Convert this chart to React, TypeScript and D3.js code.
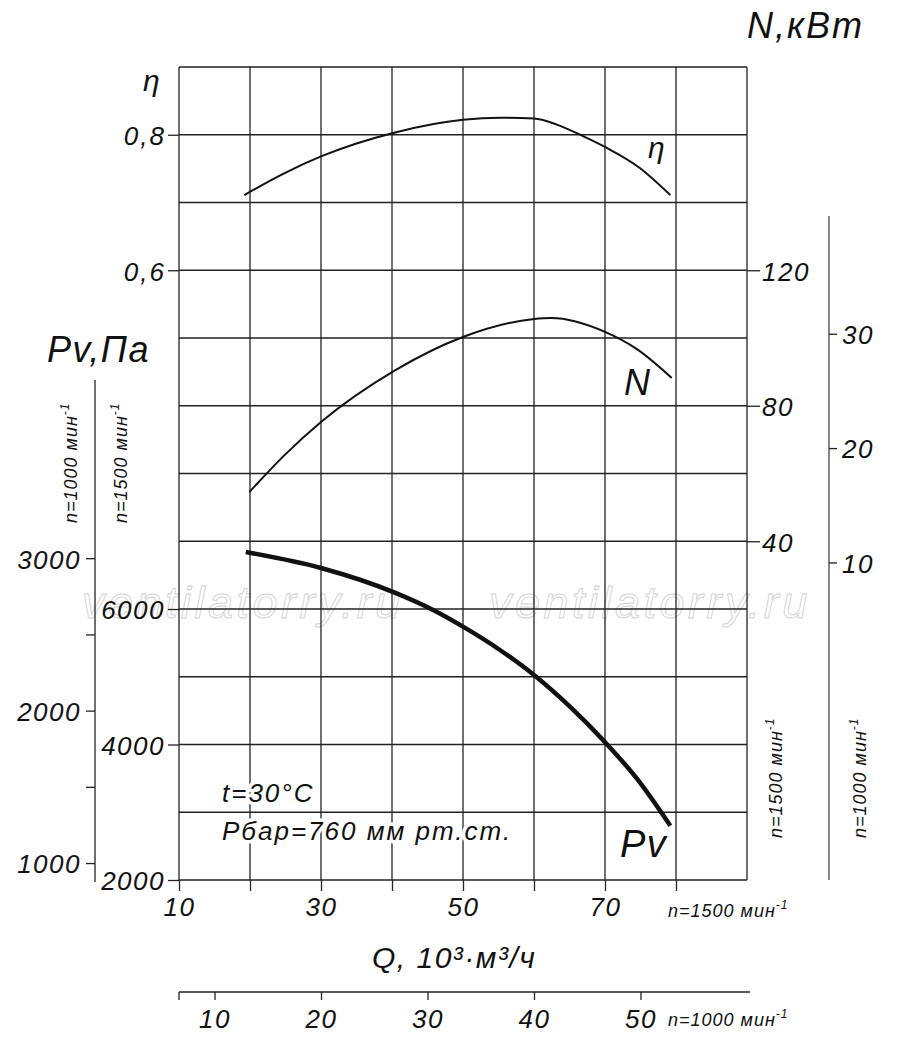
import React, { useEffect, useRef } from 'react';
import * as d3 from 'd3';

// flow, 10^3 m3/h at n=1500
const etaQ = [19.2, 24.6, 30, 40.3, 50, 55.2, 60, 63.2, 66.9, 70, 74.9, 79.2];
const etaVals = [0.711, 0.742, 0.768, 0.803, 0.822, 0.825, 0.824, 0.815, 0.798, 0.782, 0.751, 0.711];

const nQ = [19.9, 24.9, 30, 40.3, 50, 60, 62.4, 70, 74.5, 79.4];
const nVals = [54.5, 65.5, 75.2, 90.3, 100.3, 105.6, 105.9, 101.8, 96.7, 88.2];

const pvQ = [19.4, 30, 40.3, 45.8, 50, 55.2, 60, 65.1, 70, 74.5, 79.2];
const pvVals = [6841, 6605, 6245, 5985, 5739, 5395, 5026, 4555, 4035, 3495, 2800];

const qGrid = [10, 20, 30, 40, 50, 60, 70, 80, 90];
const q1500Ticks = [10, 20, 30, 40, 50, 60, 70, 80];
const q1500Labels = [10, 30, 50, 70];
const q1000Ticks = [10, 20, 30, 40, 50];
const rowGrid = [2000, 3000, 4000, 5000, 6000, 7000, 8000, 9000, 10000, 11000, 12000, 13000, 14000];
const etaTicks = [0.6, 0.8];
const n1500Ticks = [40, 80, 120];
const n1000Ticks = [10, 20, 30];
const pv1500Ticks = [2000, 4000, 6000];
const pv1000Ticks = [1000, 1500, 2000, 2500, 3000];
const pv1000Labels = [1000, 2000, 3000];

const FONT = '"Liberation Sans", Arial, sans-serif';
const INK = '#111';

const FanChart: React.FC = () => {
  const svgRef = useRef<SVGSVGElement>(null);

  useEffect(() => {
    document.body.style.margin = '0';
    if (!svgRef.current) return;
    const svg = d3.select(svgRef.current);
    svg.selectAll('*').remove();

    const left = 179, right = 747, top = 67, bottom = 880;

    const x = d3.scaleLinear().domain([10, 90]).range([left, right]);
    const xLow = d3.scaleLinear().domain([10 * 2 / 3, 90 * 2 / 3]).range([left, right]);
    const yPv = d3.scaleLinear().domain([2000, 14000]).range([bottom, top]);
    const yPvLow = d3.scaleLinear().domain([2000 * 4 / 9, 14000 * 4 / 9]).range([bottom, top]);
    const yEta = d3.scaleLinear().domain([-0.3, 0.9]).range([bottom, top]);
    const yN = d3.scaleLinear().domain([-60, 180]).range([bottom, top]);
    const yNLow = d3.scaleLinear().domain([-60 * 8 / 27, 180 * 8 / 27]).range([bottom, top]);

    // watermark
    [82, 489].forEach(wx => {
      svg.append('text')
        .attr('x', wx).attr('y', 618)
        .attr('font-family', FONT).attr('font-style', 'italic')
        .attr('font-size', 45).attr('letter-spacing', 3.5)
        .attr('fill', 'none').attr('stroke', '#d2d2d2').attr('stroke-width', 0.9)
        .text('ventilatorry.ru');
    });

    // grid
    const grid = svg.append('g').attr('stroke', '#222').attr('stroke-width', 1.3);
    grid.selectAll('line.v').data(qGrid).enter().append('line')
      .attr('x1', d => x(d)).attr('x2', d => x(d))
      .attr('y1', top).attr('y2', bottom);
    grid.selectAll('line.h').data(rowGrid).enter().append('line')
      .attr('x1', left).attr('x2', right)
      .attr('y1', d => yPv(d)).attr('y2', d => yPv(d));

    const styleAxis = (g: d3.Selection<SVGGElement, unknown, null, undefined>, size: number, spacing = 1.5) => {
      g.select('.domain').remove();
      g.selectAll('.tick line').attr('stroke', '#222').attr('stroke-width', 1.3);
      g.selectAll('.tick text')
        .attr('fill', INK)
        .attr('font-family', FONT)
        .attr('font-style', 'italic')
        .attr('font-size', size)
        .attr('letter-spacing', spacing);
    };

    const comma = (d: d3.NumberValue) => d3.format('.1f')(+d).replace('.', ',');

    // eta axis
    svg.append('g')
      .attr('transform', `translate(${left},0)`)
      .call(d3.axisLeft(yEta).tickValues(etaTicks).tickSize(11).tickPadding(2).tickFormat(comma))
      .call(g => styleAxis(g, 26, 2))
      .call(g => g.selectAll('.tick text').attr('dy', '0.38em'));

    // Pv axis n=1500
    svg.append('g')
      .attr('transform', `translate(${left},0)`)
      .call(d3.axisLeft(yPv).tickValues(pv1500Ticks).tickSize(11).tickPadding(3).tickFormat(d3.format('d')))
      .call(g => styleAxis(g, 26))
      .call(g => g.selectAll('.tick text').attr('dy', '0.38em'));

    // Pv axis n=1000
    svg.append('line')
      .attr('x1', 95).attr('x2', 95).attr('y1', 380).attr('y2', 882)
      .attr('stroke', '#222').attr('stroke-width', 1.3);
    svg.append('g')
      .attr('transform', 'translate(95,0)')
      .call(d3.axisLeft(yPvLow).tickValues(pv1000Ticks).tickSize(9).tickPadding(5)
        .tickFormat(d => (pv1000Labels.includes(+d) ? String(d) : '')))
      .call(g => styleAxis(g, 26))
      .call(g => g.selectAll('.tick text').attr('dy', '0.38em'));

    // N axis n=1500
    svg.append('g')
      .attr('transform', `translate(${right},0)`)
      .call(d3.axisRight(yN).tickValues(n1500Ticks).tickSize(13).tickPadding(2).tickFormat(d3.format('d')))
      .call(g => styleAxis(g, 26))
      .call(g => g.selectAll('.tick text').attr('dy', '0.38em'));

    // N axis n=1000
    svg.append('line')
      .attr('x1', 829).attr('x2', 829).attr('y1', 216).attr('y2', 880)
      .attr('stroke', '#444').attr('stroke-width', 1.3);
    svg.append('g')
      .attr('transform', 'translate(829,0)')
      .call(d3.axisRight(yNLow).tickValues(n1000Ticks).tickSize(8).tickPadding(5).tickFormat(d3.format('d')))
      .call(g => styleAxis(g, 26))
      .call(g => g.selectAll('.tick text').attr('dy', '0.38em'));

    // bottom Q axis n=1500
    svg.append('g')
      .attr('transform', `translate(0,${bottom})`)
      .call(d3.axisBottom(x).tickValues(q1500Ticks).tickSize(11).tickPadding(7)
        .tickFormat(d => (q1500Labels.includes(+d) ? String(d) : '')))
      .call(g => styleAxis(g, 26));

    // bottom Q axis n=1000
    svg.append('line')
      .attr('x1', left).attr('x2', 750).attr('y1', 992).attr('y2', 992)
      .attr('stroke', '#222').attr('stroke-width', 1.3);
    svg.append('line')
      .attr('x1', left).attr('x2', left).attr('y1', 992).attr('y2', 1000)
      .attr('stroke', '#222').attr('stroke-width', 1.3);
    svg.append('g')
      .attr('transform', 'translate(0,992)')
      .call(d3.axisBottom(xLow).tickValues(q1000Ticks).tickSize(8).tickPadding(10).tickFormat(d3.format('d')))
      .call(g => styleAxis(g, 26));

    // curves
    const curve = d3.curveMonotoneX;
    const etaLine = d3.line<number>().x((_, i) => x(etaQ[i])).y(d => yEta(d)).curve(curve);
    const nLine = d3.line<number>().x((_, i) => x(nQ[i])).y(d => yN(d)).curve(curve);
    const pvLine = d3.line<number>().x((_, i) => x(pvQ[i])).y(d => yPv(d)).curve(curve);

    svg.append('path').datum(etaVals).attr('d', etaLine)
      .attr('fill', 'none').attr('stroke', INK).attr('stroke-width', 2);
    svg.append('path').datum(nVals).attr('d', nLine)
      .attr('fill', 'none').attr('stroke', INK).attr('stroke-width', 2);
    svg.append('path').datum(pvVals).attr('d', pvLine)
      .attr('fill', 'none').attr('stroke', INK).attr('stroke-width', 4.5);

    // labels
    const label = (tx: number, ty: number, txt: string, size: number, spacing = 1.5) =>
      svg.append('text')
        .attr('x', tx).attr('y', ty)
        .attr('font-family', FONT).attr('font-style', 'italic')
        .attr('font-size', size).attr('letter-spacing', spacing)
        .attr('fill', INK)
        .text(txt);

    label(143, 91, 'η', 30);
    label(747, 38, 'N,кВт', 36, 2);
    label(47, 362, 'Pv,Па', 36, 1.5);
    label(648, 158, 'η', 30);
    label(624, 395, 'N', 36);
    label(620, 857, 'Pv', 38);
    label(372, 968, 'Q, 10³·м³/ч', 30, 1.5);

    // conditions box, with white halo over the grid
    [['t=30°C', 802], ['Pбар=760 мм рт.ст.', 840]].forEach(([txt, ty]) => {
      label(222, ty as number, txt as string, 26, 2)
        .attr('stroke', '#fff').attr('stroke-width', 7)
        .attr('paint-order', 'stroke').attr('stroke-linejoin', 'round');
    });

    // speed labels
    const speed = (tx: number, ty: number, rpm: string, rotate: boolean) => {
      const t = svg.append('text')
        .attr('font-family', FONT).attr('font-style', 'italic')
        .attr('font-size', 18).attr('letter-spacing', 1)
        .attr('fill', INK);
      if (rotate) t.attr('transform', `translate(${tx},${ty}) rotate(-90)`);
      else t.attr('x', tx).attr('y', ty);
      t.append('tspan').text(`n=${rpm} мин`);
      t.append('tspan').attr('dy', -8).attr('font-size', 12).text('-1');
    };
    speed(668, 917, '1500', false);
    speed(668, 1026, '1000', false);
    speed(77, 523, '1000', true);
    speed(127, 523, '1500', true);
    speed(782, 838, '1500', true);
    speed(866, 838, '1000', true);
  }, []);

  return <svg ref={svgRef} width={900} height={1050} style={{ display: 'block', background: '#fff' }} />;
};

export default function App() {
  return <FanChart />;
}
